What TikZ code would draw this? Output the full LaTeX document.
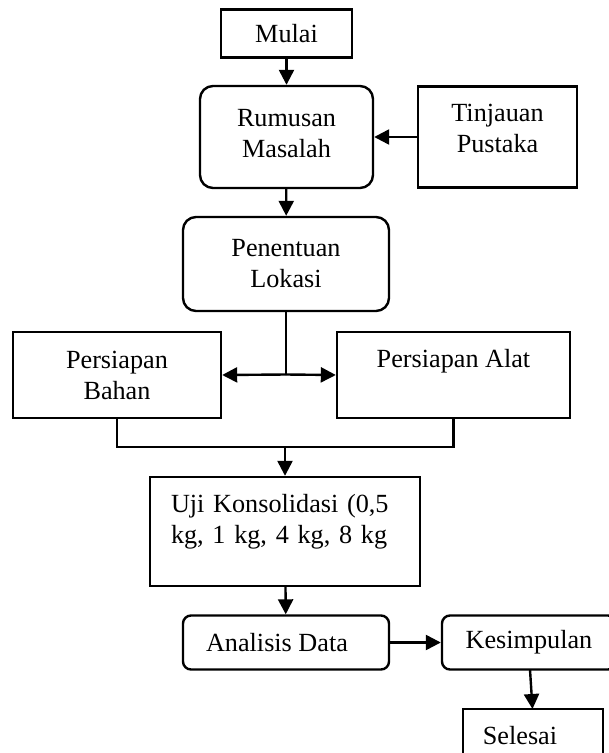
\documentclass[tikz,border=0pt]{standalone}
\usepackage{fontspec}
\setmainfont{Liberation Serif}
\usetikzlibrary{arrows.meta,calc}
\begin{document}
\begin{tikzpicture}[x=1pt,y=-1pt,
  box/.style={draw,line width=2.4pt,inner sep=0pt,align=center,font=\fontsize{26.2}{31}\selectfont},
  rbox/.style={box,rounded corners=13pt},
  sbox/.style={box,rounded corners=8pt},
  conn/.style={line width=2.4pt,-{Triangle[length=15pt,width=15pt]}},
  plain/.style={line width=2.4pt}]
\useasboundingbox (0,0) rectangle (609,753);
\clip (0,0) rectangle (609,753);
\node[box,minimum width=131pt,minimum height=48pt] (mulai) at (286.5,33.5) {Mulai};
\node[rbox,minimum width=173pt,minimum height=102pt] (rum) at (286.5,137) {Rumusan\\Masalah\\[-23pt]};
\node[box,minimum width=159pt,minimum height=101pt] (tin) at (497.5,137) {Tinjauan\\Pustaka\\[-14pt]};
\node[rbox,minimum width=206pt,minimum height=94pt] (pen) at (286,264) {Penentuan\\Lokasi};
\node[box,minimum width=208pt,minimum height=86pt] (bahan) at (117,375) {Persiapan\\Bahan};
\node[box,minimum width=233pt,minimum height=86pt] (alat) at (453.5,375) {Persiapan Alat\\[-8pt]\strut};
\node[box,minimum width=270pt,minimum height=109pt,text width=228pt,align=left] (uji) at (285,531.5) {Uji Konsolidasi (0,5\\kg, 1 kg, 4 kg, 8 kg\\[-15pt]\strut};
\node[sbox,minimum width=206pt,minimum height=54pt] (ana) at (286,642.5) {Analisis Data\hspace{18pt}};
\node[sbox,minimum width=174pt,minimum height=54pt] (kes) at (529,642.5) {Kesimpulan};
\node[box,minimum width=140pt,minimum height=54pt] (sel) at (533,736) {Selesai\hspace{26pt}};
\draw[conn] (mulai) -- (rum);
\draw[conn] (tin) -- (rum);
\draw[conn] (rum) -- (pen);
\coordinate (j) at (286,374.5);
\draw[plain] (pen.south) -- (j);
\draw[conn] (j) -- (bahan.east);
\draw[conn] (j) -- (alat.west);
\coordinate (b1) at (117,447);
\coordinate (a1) at (453.5,447);
\coordinate (m1) at (285,447);
\draw[plain] (bahan.south) -- (b1) -- (a1) -- (alat.south);
\draw[conn] (m1) -- (uji.north);
\draw[conn] (uji) -- (ana);
\draw[conn] (ana) -- (kes);
\coordinate (k1) at (530,669.5);
\coordinate (s1) at (532.5,709);
\draw[conn] (k1) -- (s1);
\end{tikzpicture}
\end{document}
